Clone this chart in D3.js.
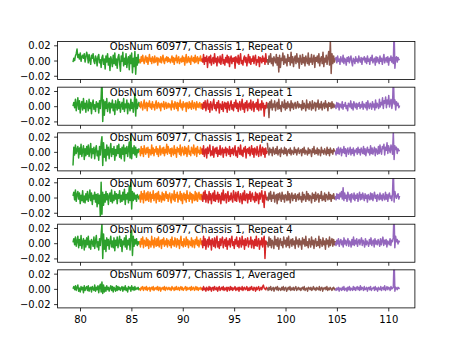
<!DOCTYPE html>
<html><head><meta charset="utf-8">
<script src="https://cdn.jsdelivr.net/npm/d3@7"></script>
<style>body{margin:0;background:#fff}svg{display:block}text{font-family:"DejaVu Sans",sans-serif}</style>
</head><body><svg id="c" width="461" height="346"></svg>
<script>
// values in thousandths (×0.001)
const UNIT = 0.001;
const titles = ["ObsNum 60977, Chassis 1, Repeat 0","ObsNum 60977, Chassis 1, Repeat 1","ObsNum 60977, Chassis 1, Repeat 2","ObsNum 60977, Chassis 1, Repeat 3","ObsNum 60977, Chassis 1, Repeat 4","ObsNum 60977, Chassis 1, Averaged"];
const segRanges = [[79.32,85.81],[85.81,91.87],[91.87,98.23],[98.23,104.84],[104.84,111.1]];
const segColors = ["#2ca02c","#ff7f0e","#d62728","#8c564b","#9467bd"];
const xTicks = [80,85,90,95,100,105,110];
const yTicks = [-0.02,0,0.02];

const g0=[-2,3,0,6,9,15,4,8,2,10,-1,5,7,3,9,-2,4,11,6,-3,8,1,-5,7,3,9,-1,-4,6,2,-7,5,8,-3,1,-9,4,7,-5,2,-11,6,-2,9,-6,3,-13,5,0,-8,7,-4,10,-6,2,-10,4,8,-3,-14,6,-1,11,-7,3,-5,9,-9,1,5,-12,7,-4,10,-16,3,-8,12,-18,4,-6,8,-3,2];
const o0=[2,-3,5,-1,7,0,-4,3,6,-2,4,-5,2,8,-1,3,-4,5,1,-3,6,-2,0,4,-6,3,1,-2,5,-3,2,7,-1,-4,3,0,5,-2,4,-1,2,-3,1,6,-2,4,-5,3,0,7,-3,2,5,-4,1,3,-2,6,-1,4,-6,2,8,-3,0,5,-2,3,-5,6,1,-1,4,-3,7,-2,2,5,-4,3,0,6,-1,2];
const r0=[3,-2,8,-5,4,-1,6,-9,2,5,-3,7,-6,1,4,-4,9,-2,3,-7,5,0,-3,6,-5,2,8,-4,1,-6,4,-2,7,-3,5,-8,2,6,-4,3,-1,4,-10,5,1,-3,7,-5,2,9,-4,0,-6,3,6,-2,4,-7,1,8,-3,5,-5,2,-1,6,-4,3,7,-6,1,-2,5,-8,4,2,-3,6,-1,3,-5,9,-2,1];
const b0=[2,-5,6,-2,9,-4,3,-7,5,1,-3,8,-6,4,-15,7,-9,3,0,10,-5,6,-3,2,-7,8,-1,4,-6,11,-3,5,-8,2,6,-4,9,-2,3,-10,7,1,-5,8,-3,4,-7,6,0,-4,10,-6,3,-2,8,-5,1,7,-9,4,-1,6,-3,9,-7,2,5,-4,11,-8,3,-2,7,-5,4,12,-6,26,-17,9,-4,6,-2,3];
const p0=[1,4,-3,6,-1,2,-5,5,0,-2,7,-4,3,1,-6,4,-1,5,-3,2,6,-2,-7,3,1,-4,5,-1,2,-3,6,0,-2,4,-5,3,1,5,-2,3,-4,6,-1,2,-5,4,0,7,-3,1,3,-6,5,-2,4,0,-4,6,-1,3,-5,2,8,-3,1,4,-2,5,-6,3,0,6,-2,4,-4,40,-10,3,5,-2,4,1,2];

const g1=[0,5,-2,9,-6,3,11,-4,7,-9,2,6,-5,10,-3,4,-8,7,1,-6,9,-3,5,-10,3,8,-4,2,-7,6,-1,4,-9,7,-3,12,40,-20,8,-12,6,-3,10,-7,2,5,-9,4,-2,8,-6,3,-11,7,0,-5,9,-3,6,-8,2,5,-4,10,-7,3,-2,8,-10,4,1,-6,9,-3,5,-8,2,16,-13,9,-3,2,5,-1];
const o1=[4,-2,6,1,-5,3,8,-3,2,5,-6,4,0,7,-2,3,-4,6,-1,2,-5,4,7,-3,1,5,-2,3,-6,4,1,-1,6,-4,2,5,-3,0,4,-2,3,1,-5,7,-1,3,-4,6,2,-3,5,-6,4,0,8,-2,3,-5,6,-1,2,4,-7,5,1,-3,6,-2,4,-4,7,0,-3,5,2,-5,6,-1,3,-2,5,1,-3,4];
const r1=[3,-4,5,-2,7,-6,2,8,-4,3,-8,6,1,-5,4,9,-3,2,-6,5,-2,7,-9,3,1,-4,6,-7,2,5,-3,4,-8,6,0,-5,3,7,-4,2,-6,5,-1,8,-3,4,-7,2,6,-5,1,9,-4,3,-8,5,-2,7,-6,2,4,-3,8,-5,1,6,-7,3,-1,5,-4,9,-6,2,3,-5,7,-2,4,-13,1,-3,5,-2];
const b1=[-3,4,-15,6,-2,8,-5,3,-1,7,-6,2,5,-4,9,-3,1,-7,6,0,-2,8,-5,4,-3,6,-1,3,-6,7,-2,4,-4,2,5,-3,1,6,-2,3,-1,2,-5,7,-3,4,0,-6,8,-2,3,-4,6,1,-5,7,-3,2,5,-6,4,-1,8,-4,3,-2,6,-5,2,4,-3,7,-1,3,-6,5,0,4,-3,6,-2,3,-1,2];
const p1=[2,-3,5,-1,4,-5,3,1,-2,6,-4,2,0,5,-3,1,-6,4,2,-1,7,-3,3,-5,6,1,-2,4,-4,3,0,5,-3,2,-1,6,-4,3,1,-2,5,-5,7,0,-3,4,2,-4,6,-1,3,-5,8,-2,4,1,-3,9,-1,5,2,11,-3,7,4,12,-2,8,3,14,-1,6,9,-3,5,40,3,8,-5,6,1,4,-2,1];

const g2=[-18,6,-4,9,-2,3,7,-8,5,-3,10,-6,2,8,-10,4,-5,7,-3,9,-6,2,11,-8,4,-2,6,-9,3,8,-5,1,-11,7,-4,12,20,-18,12,-7,3,-12,9,-4,6,-9,2,11,-6,4,-3,7,-11,3,-5,8,-2,10,-7,4,-9,6,-3,9,-12,5,-2,7,-6,3,13,-8,22,-9,5,-2,8,-4,6,-7,3,-1,4,0];
const o2=[3,-5,7,-2,4,-6,8,1,-3,5,-1,6,-7,3,2,-4,9,-2,5,-5,3,0,7,-3,4,-6,2,8,-4,1,5,-2,6,-5,3,-1,10,-3,7,2,-2,4,-6,5,1,-4,8,-2,3,-7,6,0,4,-3,9,-5,2,6,-1,-4,7,-2,5,-6,3,8,-3,1,-5,6,2,-2,9,-4,3,5,-6,7,-1,2,-3,6,-2,4];
const r2=[5,-3,8,-6,2,4,-8,6,-2,3,9,-5,1,-4,7,-7,3,5,-2,6,-6,2,-3,8,-4,1,5,-7,3,-1,6,-5,4,2,-3,7,-6,3,-2,5,-4,2,8,-5,1,-7,6,3,-3,9,-4,2,-6,5,0,7,-8,3,4,-2,6,-5,1,8,-3,4,-7,5,2,-4,7,-1,-6,3,9,-5,2,6,-3,4,-7,5,-2,1];
const b2=[12,2,-4,5,-1,3,-5,6,0,-3,4,-2,7,-4,1,3,-6,5,-1,2,-3,6,-2,4,-5,1,3,-2,5,-4,2,0,-3,6,-1,3,-4,2,5,-2,1,3,-5,4,-1,6,-3,2,0,-4,5,-2,3,1,-6,4,-1,7,-3,2,-2,5,-4,3,1,-5,6,-1,2,-3,4,0,-4,6,-2,3,-5,5,-1,2,-3,4,1,2];
const p2=[1,-4,4,-2,6,-3,2,5,-5,3,-1,7,-2,4,-6,2,5,-3,1,6,-4,3,-2,5,-5,2,0,4,-3,6,-1,3,-4,5,1,-2,7,-3,4,-5,2,6,-1,3,-4,8,-2,5,-3,2,6,-5,4,1,-3,7,-2,9,1,-3,7,4,10,-4,6,2,12,-2,8,3,-1,9,5,-3,26,-10,8,3,6,-2,4,2,1];

const g3=[2,7,-3,10,-5,4,8,-2,6,-8,3,-4,9,-6,2,-7,5,-3,8,-5,1,10,-4,6,-9,3,-2,7,-6,4,-12,5,-8,3,-25,20,-22,7,-10,4,-6,8,-3,5,-9,2,6,-5,10,-7,3,-4,8,-2,5,-8,4,-1,9,-6,3,-5,7,-3,11,-9,4,-2,6,-7,15,-4,20,-15,8,-4,6,-2,3,-5,4,1,-2,3];
const o3=[4,-6,8,-2,5,-7,9,1,-4,6,-3,8,-5,2,7,-6,4,-1,9,-4,3,5,-7,6,-2,8,-5,3,1,-6,7,-3,5,-4,2,8,-1,4,-5,3,6,-2,-7,5,2,-3,9,-5,4,0,7,-6,3,-2,8,-4,5,-8,2,6,-3,4,-6,9,-1,3,-5,7,-2,5,-7,4,1,-4,8,-3,6,-5,2,7,-2,4,-3,5];
const r3=[3,-5,7,-2,9,-6,4,1,-7,8,-3,5,-8,2,6,-4,9,-5,3,-2,7,-6,4,1,-8,6,-3,10,-4,2,5,-7,3,8,-5,2,-3,6,-1,-6,9,2,-4,7,-5,3,8,-2,-6,5,1,-8,6,-3,9,-4,2,5,-7,4,-2,8,-5,3,6,-3,1,-6,7,-4,5,2,-8,6,-2,4,9,-6,3,-13,8,2,-3,1];
const b3=[1,-4,6,-2,8,-5,3,-1,7,-6,2,4,-8,5,-3,6,1,-5,7,-2,3,-6,4,2,-4,8,-3,5,-7,2,6,-4,3,-1,5,-5,2,4,-3,6,-2,1,-6,7,-3,4,0,-5,8,-2,5,-4,3,1,-7,6,-1,4,-5,7,-3,2,5,-6,3,-1,8,-4,2,-3,6,-5,4,1,-3,7,-2,4,-5,3,-1,5,-2,1];
const p3=[2,-3,5,-1,4,-2,6,1,8,-2,13,-4,6,-1,3,-5,7,2,-3,4,-6,5,1,-2,6,-4,3,-1,5,-5,2,7,-3,4,-2,6,1,-4,5,-1,3,-6,4,0,-3,6,-2,5,-4,2,7,-1,3,-5,4,1,-3,6,-2,3,-4,5,0,-3,7,-2,4,-5,3,6,-1,2,-4,5,40,-6,8,2,-1,3,5,-2,2];

const g4=[1,6,-2,8,-4,3,9,-6,5,-3,10,-7,2,6,-9,4,-5,7,-2,9,-6,3,-8,5,1,-4,8,-7,3,10,-5,2,-9,6,-3,11,25,-20,12,-8,4,-11,7,-3,5,-8,2,9,-5,3,-6,7,-10,4,-3,8,-6,2,9,-4,5,-11,3,-2,7,-5,10,-8,4,-2,6,-9,13,17,-16,9,-4,5,-1,6,-3,2,-1,3];
const o4=[3,-5,6,-1,8,-6,4,2,-4,7,-3,5,-7,3,1,-5,9,-2,4,-6,7,0,-4,6,-3,8,-5,2,4,-7,5,-1,7,-4,3,-2,6,-5,4,1,-3,5,-6,8,-2,3,-4,7,1,-5,6,-2,4,-7,3,9,-3,2,-5,6,0,-4,8,-2,5,-6,3,1,-3,7,-5,4,2,-6,5,-1,8,-3,4,-5,2,6,-2,3];
const r4=[4,-6,9,-3,6,-8,2,5,-5,8,-2,4,-9,6,1,-4,7,-6,3,9,-5,2,-7,6,-3,4,8,-6,1,5,-4,7,-8,3,-2,6,-5,4,9,-3,2,-7,5,-1,8,-4,3,-6,7,1,-5,9,-2,4,-8,6,-3,2,7,-5,3,-1,8,-6,4,2,-7,5,-3,9,-4,1,6,-8,3,-2,7,-5,4,9,-20,3,1,-2];
const b4=[2,-5,8,-3,6,-6,4,1,-7,9,-2,5,-4,7,-8,3,6,-3,2,-6,8,-1,4,-5,7,-3,9,-6,2,5,-4,6,-2,3,-7,8,-1,4,-5,6,-2,3,-8,7,-1,5,-4,9,-3,2,-6,6,1,-5,8,-2,4,-7,3,6,-4,2,-3,9,-6,5,1,-4,7,-2,3,-8,6,-1,4,-5,8,-3,2,6,-4,5,-2,3];
const p4=[1,-3,4,-1,6,-4,2,5,-2,3,-5,7,-1,4,-3,2,6,-4,3,1,-5,5,-2,8,-3,4,-1,6,-4,2,5,-2,3,7,-3,4,1,-5,6,-2,3,0,-4,5,-1,7,-3,2,4,-5,6,-1,3,-2,5,1,-4,6,-2,3,8,-3,4,-1,5,-5,3,1,-2,6,-3,4,2,7,40,-6,9,2,5,-1,3,1];

const g5=[0,3,-1,4,-2,2,5,-3,1,-4,3,-1,2,-5,4,-2,1,3,-2,4,-3,1,2,-4,3,0,-2,5,-3,2,-1,4,-5,3,6,-4,9,-6,5,-4,2,-3,4,-1,2,-3,1,4,-2,3,-4,2,0,-3,4,-2,3,-1,2,-2,1,3,-3,2,-1,4,-2,1,-4,3,0,2,-3,4,-1,2,-2,3,-1,1,0,2,-1,1];
const o5=[1,-2,2,0,3,-2,1,2,-1,3,-2,1,0,2,-3,1,2,-1,3,-2,1,0,2,-1,3,-2,1,2,-3,1,0,2,-1,3,-2,1,2,-1,0,2,-1,1,-2,3,0,1,-2,2,-1,3,-1,0,2,-2,1,3,-1,2,-2,0,1,3,-2,2,-1,1,0,2,-2,3,-1,1,2,-2,0,3,-1,2,-2,1,0,2,-1,1];
const r5=[2,-2,3,-1,1,-3,2,0,-2,3,-1,2,-3,1,2,-2,3,0,-1,2,-3,1,3,-2,0,2,-1,3,-2,1,-1,2,-3,2,1,-2,3,-1,2,-2,1,0,3,-2,1,-1,2,-3,2,0,-1,3,-2,1,2,-1,0,3,-2,1,-2,2,-1,3,0,-2,2,1,-3,2,-1,1,3,-2,0,2,-1,3,5,1,0,-1,2,0];
const b5=[1,-2,2,-1,3,-2,0,2,-3,1,2,-1,3,-2,1,0,-2,2,-1,3,-2,1,2,-3,0,2,-1,3,-2,1,-1,2,-2,1,3,-2,0,2,-1,1,-2,1,2,-1,3,-2,0,1,-3,2,1,-1,2,-2,0,3,-1,1,-2,2,0,-1,3,-2,1,2,-3,1,0,2,-1,3,-2,1,-1,2,0,-2,1,2,-1,1];
const p5=[0,-2,1,-1,2,-3,1,0,-2,2,-1,3,-2,0,1,-3,2,-1,3,-2,1,0,-2,3,-1,2,-2,1,3,-1,2,-2,4,-1,2,1,-2,3,-1,0,2,-3,1,2,-1,3,-2,0,1,2,-2,3,-1,1,-3,2,0,-1,3,-2,1,2,-1,4,-2,0,3,-1,2,1,-2,3,0,1,2,40,-3,2,1,-1,2,1,0];

const panels = [[g0,o0,r0,b0,p0],[g1,o1,r1,b1,p1],[g2,o2,r2,b2,p2],[g3,o3,r3,b3,p3],[g4,o4,r4,b4,p4],[g5,o5,r5,b5,p5]];

const svg = d3.select("#c");
const L = 57.6, R = 414.9, T = 41.5, B = 307.9;
const nP = panels.length, hs = 0.2;
const ph = (B - T) / (nP + (nP - 1) * hs), gap = ph * hs;
const x = d3.scaleLinear().domain([77.82, 112.59]).range([L, R]);
const fmt = d => d3.format(".2f")(d).replace("-", "\u2212");

panels.forEach((segs, pi) => {
  const top = T + pi * (ph + gap), bot = top + ph;
  const y = d3.scaleLinear().domain([-0.025, 0.025]).range([bot, top]);
  const g = svg.append("g");
  const cid = "clip" + pi;
  g.append("clipPath").attr("id", cid).append("rect").attr("x", L).attr("y", top).attr("width", R - L).attr("height", ph);
  const line = d3.line().x(d => x(d[0])).y(d => y(d[1] * UNIT));
  segs.forEach((vals, si) => {
    const [a, b] = segRanges[si];
    const pts = vals.map((v, i) => [a + (b - a) * i / (vals.length - 1), v]);
    g.append("path").attr("clip-path", `url(#${cid})`).attr("d", line(pts))
      .attr("fill", "none").attr("stroke", segColors[si]).attr("stroke-width", 1.5)
      .attr("stroke-linejoin", "round");
  });
  const xa = d3.axisBottom(x).tickValues(xTicks).tickSize(3.5).tickPadding(3.5)
    .tickFormat(pi === nP - 1 ? d3.format("d") : () => "");
  const xg = g.append("g").attr("transform", `translate(0,${bot})`).call(xa);
  const ya = d3.axisLeft(y).tickValues(yTicks).tickSize(3.5).tickPadding(3.5).tickFormat(fmt);
  const yg = g.append("g").attr("transform", `translate(${L},0)`).call(ya);
  [xg, yg].forEach(a => {
    a.select(".domain").remove();
    a.selectAll("line").attr("stroke", "#000").attr("stroke-width", 0.8);
    a.selectAll("text").attr("font-size", 10).attr("fill", "#000").attr("font-family", "DejaVu Sans");
  });
  xg.selectAll("text").attr("dy", null).attr("y", 15.5);
  yg.selectAll("text").attr("dy", "0.35em");
  g.append("rect").attr("x", L).attr("y", top).attr("width", R - L).attr("height", ph)
    .attr("fill", "none").attr("stroke", "#000").attr("stroke-width", 0.8);
  g.append("text").attr("x", x(82.9)).attr("y", top + 8.5).attr("font-size", 10).attr("fill", "#000").text(titles[pi]);
});
</script></body></html>
